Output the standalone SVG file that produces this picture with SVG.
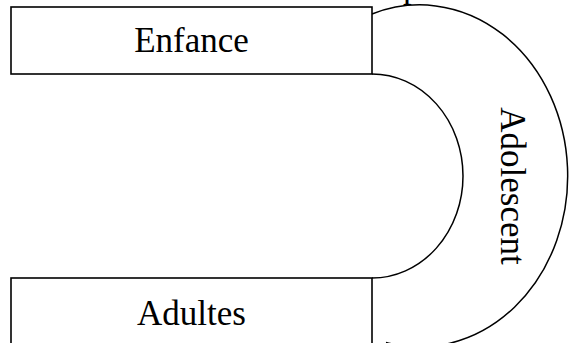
<svg xmlns="http://www.w3.org/2000/svg" width="569" height="343" viewBox="0 0 569 343">
<style>
.box{fill:#fff;stroke:#000;stroke-width:1.6}
.arc{fill:none;stroke:#000;stroke-width:1.5}
.lbl{font-family:'Liberation Serif','Times New Roman','DejaVu Serif',serif;font-size:35px;fill:#000}
</style>
<rect width="569" height="343" fill="#fff"/>
<g id="connectors">
<path class="arc" d="M372,14 A148,171 0 1 1 386,342.4"/>
<path class="arc" d="M372,74 A91,102 0 0 1 372,278"/>
</g>
<g id="enfance">
<rect class="box" x="11" y="7" width="361" height="67"/>
<text class="lbl" x="191.5" y="52" text-anchor="middle">Enfance</text>
</g>
<g id="adultes">
<rect class="box" x="11" y="278" width="361" height="80"/>
<text class="lbl" x="191.5" y="325" text-anchor="middle">Adultes</text>
</g>
<g id="adolescent">
<text class="lbl" transform="translate(501,186) rotate(90)" text-anchor="middle">Adolescent</text>
</g>
<text class="lbl" x="403" y="-3.5">p</text>
</svg>
